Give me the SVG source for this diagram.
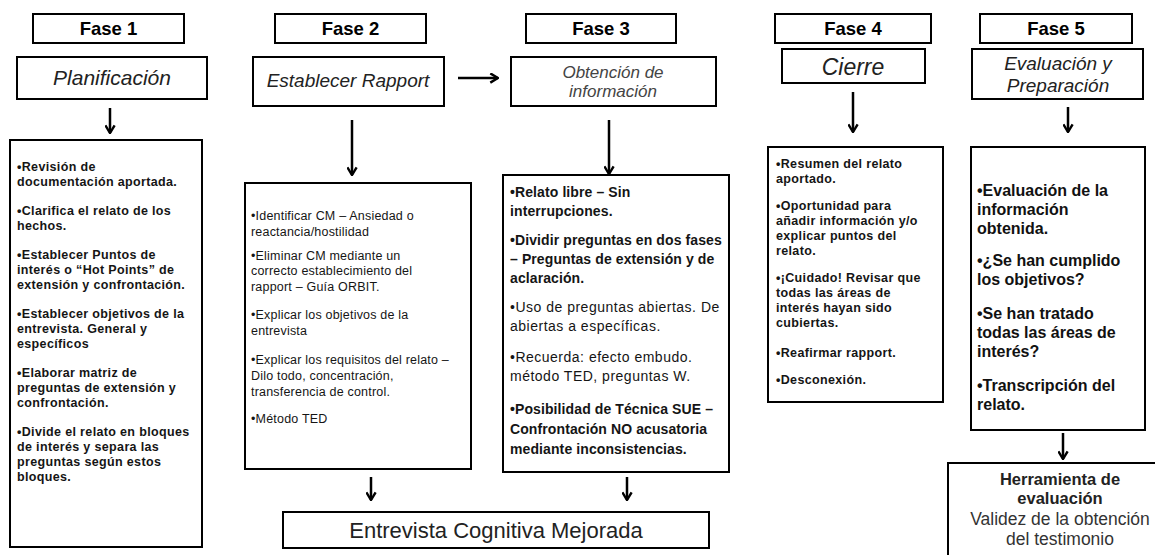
<svg xmlns="http://www.w3.org/2000/svg" width="1155" height="555" viewBox="0 0 1155 555">
<style>
.box{fill:#fff;stroke:#000;stroke-width:2}
.hd{font-family:"Liberation Sans",Arial,sans-serif;font-weight:bold;font-size:18.5px;text-anchor:middle;fill:#000}
.ti{font-family:"Liberation Sans",Arial,sans-serif;font-style:italic;font-size:19px;text-anchor:middle;fill:#222}
.ti2{font-family:"Liberation Sans",Arial,sans-serif;font-style:italic;font-size:17px;text-anchor:middle;fill:#444}
.b1{font-family:"Liberation Sans",Arial,sans-serif;font-weight:bold;font-size:12.5px;letter-spacing:0.35px;fill:#151515}
.b2{font-family:"Liberation Sans",Arial,sans-serif;font-size:12.5px;letter-spacing:0.2px;fill:#151515}
.b3{font-family:"Liberation Sans",Arial,sans-serif;font-weight:bold;font-size:14px;letter-spacing:0.1px;fill:#151515}
.b3r{font-family:"Liberation Sans",Arial,sans-serif;font-size:14px;letter-spacing:0.5px;fill:#151515}
.b5{font-family:"Liberation Sans",Arial,sans-serif;font-weight:bold;font-size:16px;fill:#111}
.ec{font-family:"Liberation Sans",Arial,sans-serif;font-size:22px;text-anchor:middle;fill:#222}
.hb{font-family:"Liberation Sans",Arial,sans-serif;font-weight:bold;font-size:16.5px;text-anchor:middle;fill:#222}
.hr{font-family:"Liberation Sans",Arial,sans-serif;font-size:17.5px;text-anchor:middle;fill:#333}
.ar{fill:none;stroke:#000;stroke-width:2.5;marker-end:url(#ah)}
</style>
<defs>
<marker id="ah" viewBox="0 0 10 10" refX="9" refY="5" markerWidth="11" markerHeight="11" markerUnits="userSpaceOnUse" orient="auto">
<path d="M2,0.8 L9,5 L2,9.2" fill="none" stroke="#000" stroke-width="2.2"/>
</marker>
</defs>
<rect width="1155" height="555" fill="#fff"/>

<g id="fase1">
<rect class="box" x="33" y="14" width="151" height="29"/>
<text class="hd" x="108.5" y="35">Fase 1</text>
</g>
<g id="fase2">
<rect class="box" x="275" y="14" width="151" height="29"/>
<text class="hd" x="350.5" y="35">Fase 2</text>
</g>
<g id="fase3">
<rect class="box" x="526" y="14" width="150" height="29"/>
<text class="hd" x="601" y="35">Fase 3</text>
</g>
<g id="fase4">
<rect class="box" x="775" y="14" width="156" height="29"/>
<text class="hd" x="853" y="35">Fase 4</text>
</g>
<g id="fase5">
<rect class="box" x="980" y="14" width="152" height="29"/>
<text class="hd" x="1056" y="35">Fase 5</text>
</g>

<g id="planificacion">
<rect class="box" x="17" y="57" width="190" height="42"/>
<text class="ti" x="112" y="85" style="font-size:21px">Planificación</text>
</g>
<g id="rapport">
<rect class="box" x="253" y="57" width="191" height="49"/>
<text class="ti" x="348" y="87">Establecer Rapport</text>
</g>
<g id="obtencion">
<rect class="box" x="511" y="57" width="205" height="49"/>
<text class="ti2" x="613" y="78">Obtención de</text>
<text class="ti2" x="613" y="97">información</text>
</g>
<g id="cierre">
<rect class="box" x="782" y="49" width="143" height="34"/>
<text class="ti" x="853" y="75" style="font-size:23px">Cierre</text>
</g>
<g id="evaluacion">
<rect class="box" x="972" y="49" width="171" height="50"/>
<text class="ti" x="1058" y="70">Evaluación y</text>
<text class="ti" x="1058" y="92">Preparación</text>
</g>

<g id="contenido1">
<rect class="box" x="10" y="140" width="192" height="407"/>
<text class="b1">
<tspan x="17" y="171">•Revisión de</tspan>
<tspan x="17" y="186">documentación aportada.</tspan>
<tspan x="17" y="215">•Clarifica el relato de los</tspan>
<tspan x="17" y="230">hechos.</tspan>
<tspan x="17" y="259">•Establecer Puntos de</tspan>
<tspan x="17" y="274">interés o “Hot Points” de</tspan>
<tspan x="17" y="289">extensión y confrontación.</tspan>
<tspan x="17" y="318">•Establecer objetivos de la</tspan>
<tspan x="17" y="333">entrevista. General y</tspan>
<tspan x="17" y="348">específicos</tspan>
<tspan x="17" y="377">•Elaborar matriz de</tspan>
<tspan x="17" y="392">preguntas de extensión y</tspan>
<tspan x="17" y="407">confrontación.</tspan>
<tspan x="17" y="436">•Divide el relato en bloques</tspan>
<tspan x="17" y="451">de interés y separa las</tspan>
<tspan x="17" y="466">preguntas según estos</tspan>
<tspan x="17" y="481">bloques.</tspan>
</text>
</g>

<g id="contenido2">
<rect class="box" x="245" y="183" width="226" height="286"/>
<text class="b2">
<tspan x="251" y="220">•Identificar CM – Ansiedad o</tspan>
<tspan x="251" y="236">reactancia/hostilidad</tspan>
<tspan x="251" y="260">•Eliminar  CM mediante un</tspan>
<tspan x="251" y="275">correcto establecimiento del</tspan>
<tspan x="251" y="291">rapport – Guía ORBIT.</tspan>
<tspan x="251" y="319">•Explicar los objetivos de la</tspan>
<tspan x="251" y="335">entrevista</tspan>
<tspan x="251" y="364">•Explicar los requisitos del relato –</tspan>
<tspan x="251" y="380">Dilo todo, concentración,</tspan>
<tspan x="251" y="396">transferencia de control.</tspan>
<tspan x="251" y="423">•Método TED</tspan>
</text>
</g>

<g id="contenido3">
<rect class="box" x="503" y="175" width="226" height="297"/>
<text class="b3">
<tspan x="510" y="197">•Relato libre – Sin</tspan>
<tspan x="510" y="216">interrupciones.</tspan>
<tspan x="510" y="245">•Dividir preguntas en dos fases</tspan>
<tspan x="510" y="264">– Preguntas de extensión y de</tspan>
<tspan x="510" y="283">aclaración.</tspan>
</text>
<text class="b3r">
<tspan x="510" y="312">•Uso de preguntas abiertas. De</tspan>
<tspan x="510" y="331">abiertas a específicas.</tspan>
<tspan x="510" y="362">•Recuerda: efecto embudo.</tspan>
<tspan x="510" y="381">método TED, preguntas W.</tspan>
</text>
<text class="b3">
<tspan x="510" y="414">•Posibilidad de Técnica SUE –</tspan>
<tspan x="510" y="434">Confrontación NO acusatoria</tspan>
<tspan x="510" y="454">mediante inconsistencias.</tspan>
</text>
</g>

<g id="contenido4">
<rect class="box" x="768" y="147" width="175" height="255"/>
<text class="b1">
<tspan x="776" y="168">•Resumen del relato</tspan>
<tspan x="776" y="183">aportado.</tspan>
<tspan x="776" y="210">•Oportunidad para</tspan>
<tspan x="776" y="225">añadir información y/o</tspan>
<tspan x="776" y="240">explicar puntos del</tspan>
<tspan x="776" y="255">relato.</tspan>
<tspan x="776" y="282">•¡Cuidado! Revisar que</tspan>
<tspan x="776" y="297">todas las áreas de</tspan>
<tspan x="776" y="312">interés hayan sido</tspan>
<tspan x="776" y="327">cubiertas.</tspan>
<tspan x="776" y="357">•Reafirmar rapport.</tspan>
<tspan x="776" y="384">•Desconexión.</tspan>
</text>
</g>

<g id="contenido5">
<rect class="box" x="971" y="147" width="174" height="283"/>
<text class="b5">
<tspan x="977" y="196">•Evaluación de la</tspan>
<tspan x="977" y="215">información</tspan>
<tspan x="977" y="234">obtenida.</tspan>
<tspan x="977" y="266">•¿Se han cumplido</tspan>
<tspan x="977" y="285">los objetivos?</tspan>
<tspan x="977" y="319">•Se han tratado</tspan>
<tspan x="977" y="338">todas las áreas de</tspan>
<tspan x="977" y="357">interés?</tspan>
<tspan x="977" y="391">•Transcripción del</tspan>
<tspan x="977" y="410">relato.</tspan>
</text>
</g>

<g id="entrevista">
<rect class="box" x="283" y="512" width="426" height="36"/>
<text class="ec" x="496" y="538">Entrevista Cognitiva Mejorada</text>
</g>

<g id="herramienta">
<rect class="box" x="948" y="463" width="220" height="110"/>
<text class="hb" x="1060" y="485">Herramienta de</text>
<text class="hb" x="1060" y="504">evaluación</text>
<text class="hr" x="1060" y="525">Validez de la obtención</text>
<text class="hr" x="1060" y="545">del testimonio</text>
</g>

<g id="conectores">
<path class="ar" d="M110,108 V133"/>
<path class="ar" d="M352,120 V175"/>
<path class="ar" d="M458,78 H498"/>
<path class="ar" d="M609,120 V174"/>
<path class="ar" d="M853,92 V132"/>
<path class="ar" d="M1068,107 V132"/>
<path class="ar" d="M371,477 V500"/>
<path class="ar" d="M627,477 V500"/>
<path class="ar" d="M1063,433 V459"/>
</g>
</svg>
